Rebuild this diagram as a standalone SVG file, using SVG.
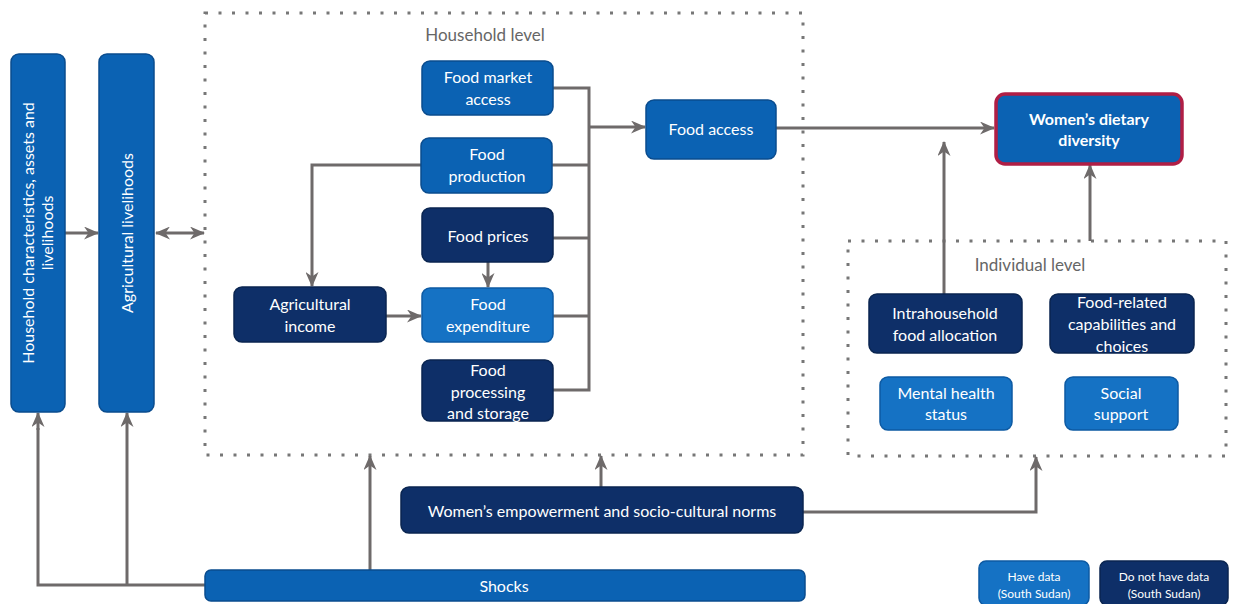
<svg xmlns="http://www.w3.org/2000/svg" width="1239" height="604" viewBox="0 0 1239 604">
<defs>
<style>
.mb{fill:#0b62b3;stroke:#0a4c8e;stroke-width:1.5}
.lb{fill:#1572c4;stroke:#0d5aa3;stroke-width:1.5}
.db{fill:#0e2f68;stroke:#0a2550;stroke-width:1.5}
.t{font-family:Lato,"Open Sans","Liberation Sans",sans-serif;font-size:16px;fill:#fff;text-anchor:middle}
.lg{font-family:Lato,"Open Sans","Liberation Sans",sans-serif;font-size:12px;fill:#fff;text-anchor:middle}
.lvl{font-family:Lato,"Open Sans","Liberation Sans",sans-serif;font-size:17px;fill:#666;text-anchor:middle}
.dot{fill:none;stroke:#777;stroke-width:3;stroke-dasharray:3 10.5}
.c{fill:none;stroke:#6e6a6a;stroke-width:3}
.a{marker-end:url(#ah)}
</style>
<marker id="ah" markerUnits="userSpaceOnUse" viewBox="0 0 15 13" refX="14" refY="6.5" markerWidth="15" markerHeight="13" orient="auto-start-reverse">
<path d="M0,0 L15,6.5 L0,13 L4.5,6.5 z" fill="#6e6a6a"/>
</marker>
</defs>

<g id="household-level">
<rect class="dot" x="205" y="13" width="598" height="442"/>
<text class="lvl" x="485" y="41">Household level</text>
</g>
<g id="individual-level">
<rect class="dot" x="848" y="241" width="378" height="215"/>
<text class="lvl" x="1030" y="271">Individual level</text>
</g>

<g id="connectors">
<path class="c a" d="M65,233 H98"/>
<path class="c a" d="M156,233 H204" marker-start="url(#ah)"/>
<path class="c" d="M205,585 H38 V428"/>
<path class="c a" d="M38,430 V413"/>
<path class="c a" d="M127,585 V413"/>
<path class="c a" d="M370,570 V456"/>
<path class="c a" d="M601,487 V456"/>
<path class="c a" d="M803,512 H1036 V457"/>
<path class="c" d="M553,88 H589 V390 H553"/>
<path class="c" d="M552,165 H589"/>
<path class="c" d="M553,238 H589"/>
<path class="c" d="M553,316 H589"/>
<path class="c a" d="M589,127 H645"/>
<path class="c a" d="M421,165 H312 V286"/>
<path class="c a" d="M386,316 H421"/>
<path class="c a" d="M488,262 V287"/>
<path class="c a" d="M776,128 H994"/>
<path class="c a" d="M944,294 V142"/>
<path class="c a" d="M1090,241 V165"/>
</g>

<g id="hh-characteristics">
<rect class="mb" x="11" y="54" width="54" height="358" rx="8"/>
<text class="t" transform="translate(38,233) rotate(-90)"><tspan x="0" y="-4">Household characteristics, assets and</tspan><tspan x="0" y="15">livelihoods</tspan></text>
</g>
<g id="agri-livelihoods">
<rect class="mb" x="99" y="54" width="55" height="358" rx="8"/>
<text class="t" transform="translate(127,233) rotate(-90)" y="6">Agricultural livelihoods</text>
</g>

<g id="food-market-access">
<rect class="mb" x="422" y="61" width="131" height="54" rx="8"/>
<text class="t"><tspan x="488" y="83">Food market</tspan><tspan x="488" y="105">access</tspan></text>
</g>
<g id="food-production">
<rect class="mb" x="421" y="138" width="131" height="55" rx="8"/>
<text class="t"><tspan x="487" y="160">Food</tspan><tspan x="487" y="182">production</tspan></text>
</g>
<g id="food-prices">
<rect class="db" x="422" y="208" width="131" height="54" rx="8"/>
<text class="t" x="488" y="242">Food prices</text>
</g>
<g id="food-expenditure">
<rect class="lb" x="422" y="288" width="131" height="54" rx="8"/>
<text class="t"><tspan x="488" y="310">Food</tspan><tspan x="488" y="332">expenditure</tspan></text>
</g>
<g id="food-processing">
<rect class="db" x="422" y="360" width="131" height="61" rx="8"/>
<text class="t"><tspan x="488" y="376">Food</tspan><tspan x="488" y="398">processing</tspan><tspan x="488" y="419">and storage</tspan></text>
</g>
<g id="agricultural-income">
<rect class="db" x="234" y="287" width="152" height="55" rx="8"/>
<text class="t"><tspan x="310" y="310">Agricultural</tspan><tspan x="310" y="332">income</tspan></text>
</g>
<g id="food-access">
<rect class="mb" x="646" y="100" width="130" height="59" rx="8"/>
<text class="t" x="711" y="135">Food access</text>
</g>
<g id="dietary-diversity">
<rect x="996" y="94" width="186" height="70" rx="9" fill="#0b62b3" stroke="#b01e45" stroke-width="3.5"/>
<text class="t" font-weight="bold" font-size="17"><tspan x="1089" y="125">Women’s dietary</tspan><tspan x="1089" y="146">diversity</tspan></text>
</g>
<g id="intrahousehold">
<rect class="db" x="869" y="294" width="153" height="59" rx="8"/>
<text class="t"><tspan x="945" y="319">Intrahousehold</tspan><tspan x="945" y="341">food allocation</tspan></text>
</g>
<g id="food-capabilities">
<rect class="db" x="1050" y="294" width="144" height="59" rx="8"/>
<text class="t"><tspan x="1122" y="308">Food-related</tspan><tspan x="1122" y="330">capabilities and</tspan><tspan x="1122" y="352">choices</tspan></text>
</g>
<g id="mental-health">
<rect class="lb" x="880" y="377" width="132" height="53" rx="8"/>
<text class="t"><tspan x="946" y="399">Mental health</tspan><tspan x="946" y="420">status</tspan></text>
</g>
<g id="social-support">
<rect class="lb" x="1065" y="377" width="113" height="53" rx="8"/>
<text class="t"><tspan x="1121" y="399">Social</tspan><tspan x="1121" y="420">support</tspan></text>
</g>
<g id="empowerment">
<rect class="db" x="401" y="487" width="402" height="46" rx="8"/>
<text class="t" x="602" y="517">Women’s empowerment and socio-cultural norms</text>
</g>
<g id="shocks">
<rect class="mb" x="205" y="570" width="600" height="31" rx="6"/>
<text class="t" x="504" y="592">Shocks</text>
</g>
<g id="legend-have">
<rect class="lb" x="979" y="561" width="110" height="44" rx="7"/>
<text class="lg"><tspan x="1034" y="581">Have data</tspan><tspan x="1034" y="598">(South Sudan)</tspan></text>
</g>
<g id="legend-not">
<rect class="db" x="1100" y="561" width="128" height="44" rx="7"/>
<text class="lg"><tspan x="1164" y="581">Do not have data</tspan><tspan x="1164" y="598">(South Sudan)</tspan></text>
</g>
</svg>
